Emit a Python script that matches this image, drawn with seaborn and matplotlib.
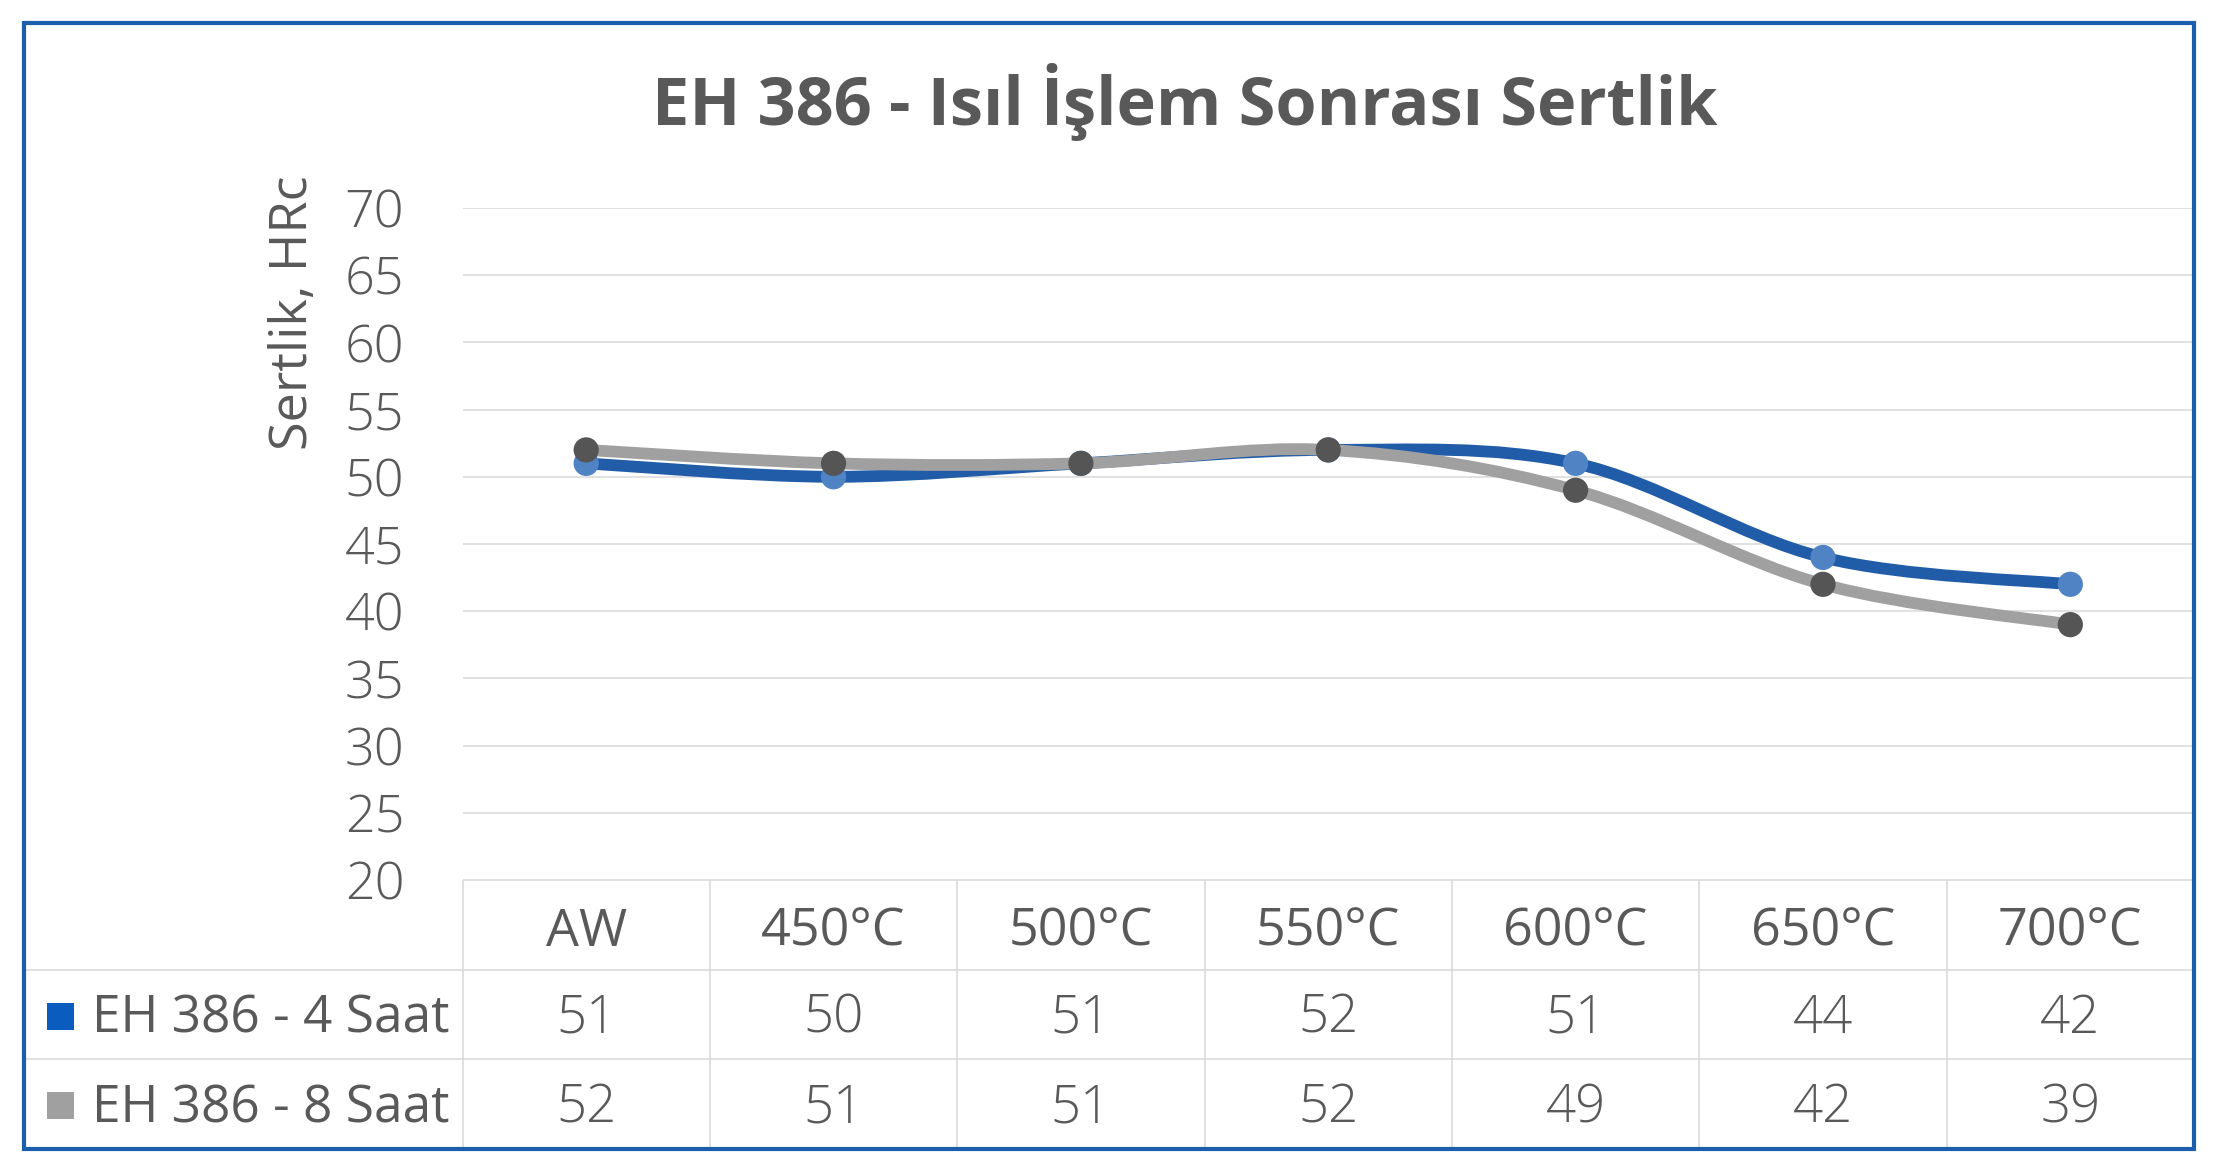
import numpy as np
import pandas as pd
import matplotlib
matplotlib.use('Agg')
import matplotlib.pyplot as plt
import seaborn as sns
from matplotlib.path import Path
from matplotlib.patches import PathPatch, Rectangle

# chart data
categories = ['AW', '450°C', '500°C', '550°C', '600°C', '650°C', '700°C']
series_names = ['EH 386 - 4 Saat', 'EH 386 - 8 Saat']
hard_4h = [51, 50, 51, 52, 51, 44, 42]
hard_8h = [52, 51, 51, 52, 49, 42, 39]
y_ticks = [20, 25, 30, 35, 40, 45, 50, 55, 60, 65, 70]

title = 'EH 386 - Isıl İşlem Sonrası Sertlik'
ylabel = 'Sertlik, HRc'

line_colors = ['#215CA8', '#A0A0A0']
marker_colors = ['#4F83C4', '#555555']
legend_colors = ['#0A5CBF', '#A0A0A0']
text_color = '#595959'
grid_color = '#D9D9D9'
border_color = '#1A5EAD'

df = pd.DataFrame({
    'pos': list(range(len(categories))) * 2,
    'Sicaklik': categories * 2,
    'Seri': [series_names[0]] * len(categories) + [series_names[1]] * len(categories),
    'Sertlik': hard_4h + hard_8h,
})

sns.set_theme(style='white')
plt.rcParams['font.family'] = ['Open Sans', 'DejaVu Sans']
plt.rcParams['font.weight'] = 300

W, H = 2218, 1174
fig = plt.figure(figsize=(W / 100, H / 100), dpi=100)

# layout in pixels
plot_l, plot_r, plot_t, plot_b = 462.5, 2194, 208, 880
box_l, box_r, box_t, box_b = 24, 2194, 23, 1149


def smooth_path(xs, ys):
    # excel-like smoothed line: catmull-rom as cubic bezier
    pts = np.column_stack([xs, ys]).astype(float)
    p = np.vstack([pts[0], pts, pts[-1]])
    verts = [pts[0]]
    codes = [Path.MOVETO]
    for i in range(len(pts) - 1):
        p0, p1, p2, p3 = p[i], p[i + 1], p[i + 2], p[i + 3]
        verts += [p1 + (p2 - p0) / 6, p2 - (p3 - p1) / 6, p2]
        codes += [Path.CURVE4] * 3
    return Path(verts, codes)


ax = fig.add_axes([plot_l / W, 1 - plot_b / H, (plot_r - plot_l) / W, (plot_b - plot_t) / H])
for k, name in enumerate(series_names):
    sub = df[df['Seri'] == name]
    ax.add_patch(PathPatch(smooth_path(sub['pos'], sub['Sertlik']), fill=False,
                           ec=line_colors[k], lw=8.5, capstyle='round', zorder=2 + 2 * k))
    sns.scatterplot(data=sub, x='pos', y='Sertlik', ax=ax, color=marker_colors[k],
                    s=330, edgecolor='none', legend=False, zorder=3 + 2 * k)

ax.set_xlim(-0.5, len(categories) - 0.5)
ax.set_ylim(y_ticks[0], y_ticks[-1])
ax.set_yticks(y_ticks)
ax.set_xticks([])
ax.set_xlabel('')
ax.yaxis.grid(True, color=grid_color, lw=1.1)
ax.set_axisbelow(True)
for s in ax.spines.values():
    s.set_visible(False)
ax.tick_params(axis='y', length=0, pad=42, labelsize=37.5, labelcolor=text_color)
ax.set_ylabel(ylabel, fontsize=37.5, fontweight='normal', color=text_color, rotation=90)
ax.yaxis.label.set(va='center', ha='center', rotation_mode='anchor')
ax.yaxis.set_label_coords((293 - plot_l) / (plot_r - plot_l), (plot_b - 313) / (plot_b - plot_t))

# data table under the chart
ux = (len(categories)) / (plot_r - plot_l)
uy = 3 / (box_b - plot_b)
x_left = -0.5 - (plot_l - box_l) * ux
tab = fig.add_axes([box_l / W, 1 - box_b / H, (box_r - box_l) / W, (box_b - plot_b) / H])
tab.set_xlim(x_left, len(categories) - 0.5)
tab.set_ylim(3, 0)
tab.axis('off')
tab.hlines([1, 2], x_left, len(categories) - 0.5, color=grid_color, lw=1.1)
tab.hlines(0, -0.5, len(categories) - 0.5, color=grid_color, lw=1.1)
tab.vlines(np.arange(-0.5, len(categories), 1), 0, 3, color=grid_color, lw=1.1)

for i, cat in enumerate(categories):
    tab.text(i, 0.58, cat, ha='center', va='center', fontsize=37.5, fontweight='normal',
             color=text_color)
for r, vals in enumerate([hard_4h, hard_8h]):
    for i, v in enumerate(vals):
        tab.text(i, 1.55 + r, str(v), ha='center', va='center', fontsize=38, color=text_color)
    sq_w, sq_h = 27 * ux, 27 * uy
    tab.add_patch(Rectangle((x_left + (47 - box_l) * ux, 1.52 + r - sq_h / 2), sq_w, sq_h,
                            fc=legend_colors[r], ec='none'))
    tab.text(x_left + (92 - box_l) * ux, 1.55 + r, series_names[r], ha='left', va='center',
             fontsize=37, fontweight='normal', color=text_color)

fig.text(1185 / W, 1 - 102 / H, title, ha='center', va='center', fontsize=48,
         fontweight='bold', color=text_color)

fig.add_artist(Rectangle((box_l / W, 1 - box_b / H), (box_r - box_l) / W, (box_b - box_t) / H,
                         transform=fig.transFigure, fill=False, ec=border_color, lw=3))

fig.savefig('out.png', dpi=100)
